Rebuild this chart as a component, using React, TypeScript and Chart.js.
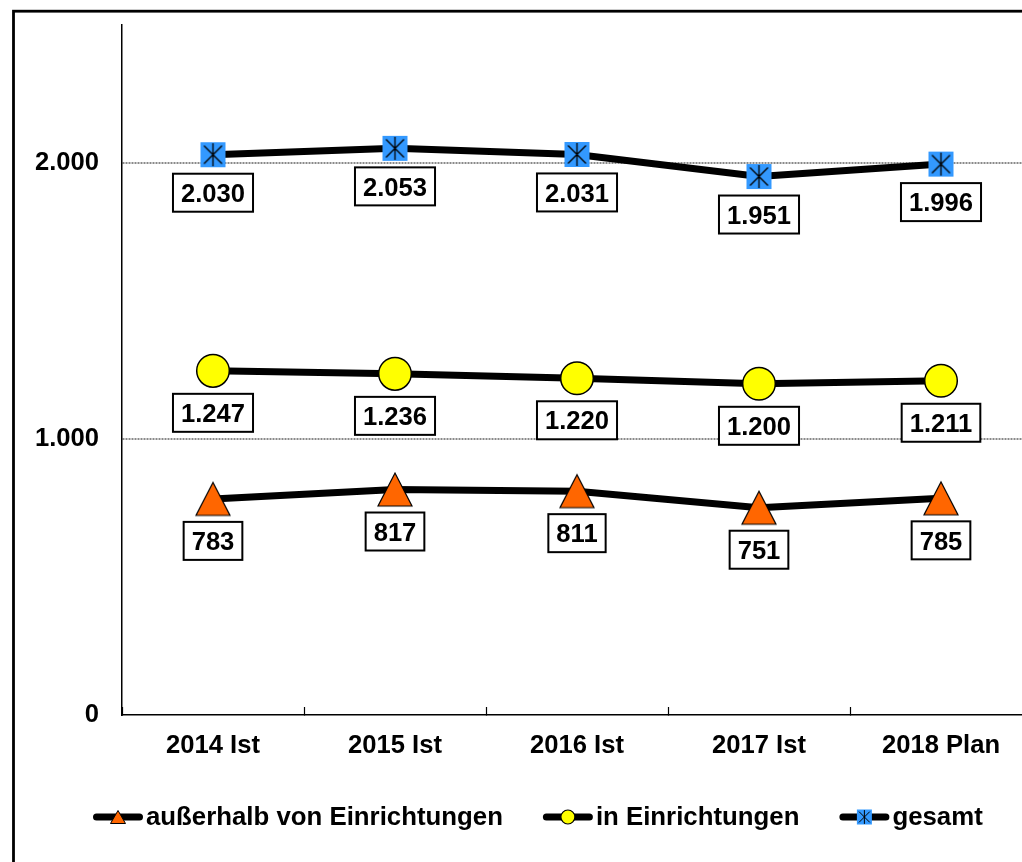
import { useEffect, useRef } from 'react';
import { Chart, registerables } from 'chart.js';

Chart.register(...registerables);

// ---- data ----
const categories = ['2014 Ist', '2015 Ist', '2016 Ist', '2017 Ist', '2018 Plan'];
const ausserhalbValues = [783, 817, 811, 751, 785];
const inEinrichtungenValues = [1247, 1236, 1220, 1200, 1211];
const gesamtValues = [2030, 2053, 2031, 1951, 1996];
const yTickValues = [0, 1000, 2000];
const seriesLabels = ['außerhalb von Einrichtungen', 'in Einrichtungen', 'gesamt'];

// ---- styles ----
const FONT = "'Liberation Sans', Arial, sans-serif";
const TEXT_SIZE = 25.6;
const LEGEND_SIZE = 25.8;
const ORANGE = '#FF6600';
const YELLOW = '#FFFF00';
const BLUE = '#3399FF';
const labelOffsets = [42, 42, 38];
const markerTypes = ['triangle', 'circle', 'square'];

const fmt = (v: number) => String(v).replace(/\B(?=(\d{3})+(?!\d))/g, '.');

function makeCanvas(w: number, h: number, draw: (c: CanvasRenderingContext2D) => void) {
  const c = document.createElement('canvas');
  c.width = w;
  c.height = h;
  const ctx = c.getContext('2d');
  if (ctx) draw(ctx);
  return c;
}

function drawTriangle(ctx: CanvasRenderingContext2D, cx: number, cy: number, w: number, h: number, lw: number) {
  ctx.beginPath();
  ctx.moveTo(cx, cy - h / 2);
  ctx.lineTo(cx + w / 2, cy + h / 2);
  ctx.lineTo(cx - w / 2, cy + h / 2);
  ctx.closePath();
  ctx.fillStyle = ORANGE;
  ctx.fill();
  ctx.lineWidth = lw;
  ctx.strokeStyle = '#000';
  ctx.lineJoin = 'miter';
  ctx.stroke();
}

function drawCircle(ctx: CanvasRenderingContext2D, cx: number, cy: number, r: number, lw: number) {
  ctx.beginPath();
  ctx.arc(cx, cy, r, 0, Math.PI * 2);
  ctx.fillStyle = YELLOW;
  ctx.fill();
  ctx.lineWidth = lw;
  ctx.strokeStyle = '#000';
  ctx.stroke();
}

function drawStarSquare(ctx: CanvasRenderingContext2D, cx: number, cy: number, s: number, lw: number) {
  ctx.fillStyle = BLUE;
  ctx.fillRect(cx - s / 2, cy - s / 2, s, s);
  ctx.strokeStyle = '#000';
  ctx.lineWidth = lw;
  const d = s / 2 - s * 0.14;
  const v = s / 2 - s * 0.04;
  ctx.beginPath();
  ctx.moveTo(cx, cy - v);
  ctx.lineTo(cx, cy + v);
  ctx.moveTo(cx - d, cy - d);
  ctx.lineTo(cx + d, cy + d);
  ctx.moveTo(cx + d, cy - d);
  ctx.lineTo(cx - d, cy + d);
  ctx.stroke();
}

const boxLabelPlugin = {
  id: 'boxLabels',
  afterDatasetsDraw(chart: any) {
    const ctx = chart.ctx as CanvasRenderingContext2D;
    ctx.save();
    ctx.font = `bold ${TEXT_SIZE}px ${FONT}`;
    chart.data.datasets.forEach((ds: any, i: number) => {
      const meta = chart.getDatasetMeta(i);
      meta.data.forEach((pt: any, j: number) => {
        const txt = fmt(ds.data[j]);
        const tw = ctx.measureText(txt).width;
        const bw = tw + 16;
        const bh = 38;
        const x = pt.x;
        const y = pt.y + labelOffsets[i];
        ctx.fillStyle = '#fff';
        ctx.fillRect(x - bw / 2, y - bh / 2, bw, bh);
        ctx.lineWidth = 2;
        ctx.strokeStyle = '#000';
        ctx.strokeRect(x - bw / 2, y - bh / 2, bw, bh);
        ctx.fillStyle = '#000';
        ctx.textAlign = 'center';
        ctx.textBaseline = 'alphabetic';
        ctx.fillText(txt, x, y + 9.2);
      });
    });
    ctx.restore();
  },
};

const legendPlugin = {
  id: 'lineLegend',
  afterDraw(chart: any) {
    const ctx = chart.ctx as CanvasRenderingContext2D;
    ctx.save();
    ctx.font = `bold ${LEGEND_SIZE}px ${FONT}`;
    let x = 93;
    const y = 817;
    chart.data.datasets.forEach((ds: any, i: number) => {
      ctx.beginPath();
      ctx.lineCap = 'round';
      ctx.lineWidth = 7;
      ctx.strokeStyle = '#000';
      ctx.moveTo(x + 3.5, y);
      ctx.lineTo(x + 46.5, y);
      ctx.stroke();
      ctx.lineCap = 'butt';
      const mx = x + 25;
      if (markerTypes[i] === 'triangle') drawTriangle(ctx, mx, y, 15, 13, 1);
      else if (markerTypes[i] === 'circle') drawCircle(ctx, mx, y, 7, 1.2);
      else drawStarSquare(ctx, mx, y, 15, 1);
      ctx.fillStyle = '#000';
      ctx.textAlign = 'left';
      ctx.textBaseline = 'alphabetic';
      ctx.fillText(ds.label, x + 53, y + 8);
      x = x + 53 + ctx.measureText(ds.label).width + 40;
    });
    ctx.restore();
  },
};

const framePlugin = {
  id: 'frame',
  afterDraw(chart: any) {
    const ctx = chart.ctx as CanvasRenderingContext2D;
    ctx.save();
    ctx.lineWidth = 2.8;
    ctx.strokeStyle = '#000';
    ctx.strokeRect(13.5, 11.2, chart.width + 40, chart.height + 40);
    ctx.restore();
  },
};

export default function App() {
  const ref = useRef<HTMLCanvasElement>(null);

  useEffect(() => {
    const canvas = ref.current;
    if (!canvas) return;
    const triImg = makeCanvas(38, 37, (c) => drawTriangle(c, 19, 18.5, 34, 33, 1.2));
    const sqImg = makeCanvas(27, 27, (c) => drawStarSquare(c, 13.5, 13.5, 25, 1.3));
    const tickFont = { family: FONT, size: TEXT_SIZE, weight: 'bold' as const };

    const chart = new Chart(canvas, {
      type: 'line',
      data: {
        labels: categories,
        datasets: [
          {
            label: seriesLabels[0],
            data: ausserhalbValues,
            borderColor: '#000',
            borderWidth: 7,
            tension: 0,
            pointStyle: triImg as any,
            pointRadius: 14,
          },
          {
            label: seriesLabels[1],
            data: inEinrichtungenValues,
            borderColor: '#000',
            borderWidth: 7,
            tension: 0,
            pointStyle: 'circle',
            pointRadius: 16.3,
            pointBorderWidth: 1.5,
            pointBackgroundColor: YELLOW,
            pointBorderColor: '#000',
          },
          {
            label: seriesLabels[2],
            data: gesamtValues,
            borderColor: '#000',
            borderWidth: 7,
            tension: 0,
            pointStyle: sqImg as any,
            pointRadius: 12,
          },
        ],
      },
      options: {
        responsive: false,
        animation: false,
        layout: { autoPadding: false, padding: { top: 25, right: 8, left: 0, bottom: 0 } },
        plugins: {
          legend: { display: false },
          tooltip: { enabled: false },
        },
        scales: {
          x: {
            type: 'category',
            offset: true,
            afterFit: (scale: any) => {
              scale.height = 147;
              scale.paddingLeft = 0;
              scale.paddingRight = 0;
            },
            grid: {
              offset: true,
              drawOnChartArea: false,
              drawTicks: true,
              tickLength: -8,
              tickColor: '#000',
              tickWidth: 1.2,
            },
            border: { color: '#000', width: 1.5 },
            ticks: {
              font: tickFont,
              color: '#000',
              padding: 24,
              maxRotation: 0,
              autoSkip: false,
            },
          },
          y: {
            type: 'linear',
            min: 0,
            max: 2500,
            afterFit: (scale: any) => {
              scale.width = 122;
              scale.paddingTop = 0;
              scale.paddingBottom = 0;
            },
            afterBuildTicks: (scale: any) => {
              scale.ticks = yTickValues.map((v) => ({ value: v }));
            },
            grid: {
              drawTicks: false,
              color: (c: any) => (c.tick && c.tick.value === 0 ? 'rgba(0,0,0,0)' : '#8a8a8a'),
              lineWidth: 2,
            },
            border: { color: '#000', width: 1.5, dash: [2, 1] },
            ticks: {
              font: tickFont,
              color: '#000',
              padding: 23,
              callback: (v: any) => fmt(Number(v)),
            },
          },
        },
      },
      plugins: [boxLabelPlugin, legendPlugin, framePlugin],
    });

    return () => chart.destroy();
  }, []);

  return (
    <div
      style={{
        position: 'absolute',
        left: 0,
        top: 0,
        width: 1022,
        height: 862,
        overflow: 'hidden',
        background: '#fff',
      }}
    >
      <canvas ref={ref} width={1040} height={862} style={{ display: 'block', width: 1040, height: 862 }} />
    </div>
  );
}
